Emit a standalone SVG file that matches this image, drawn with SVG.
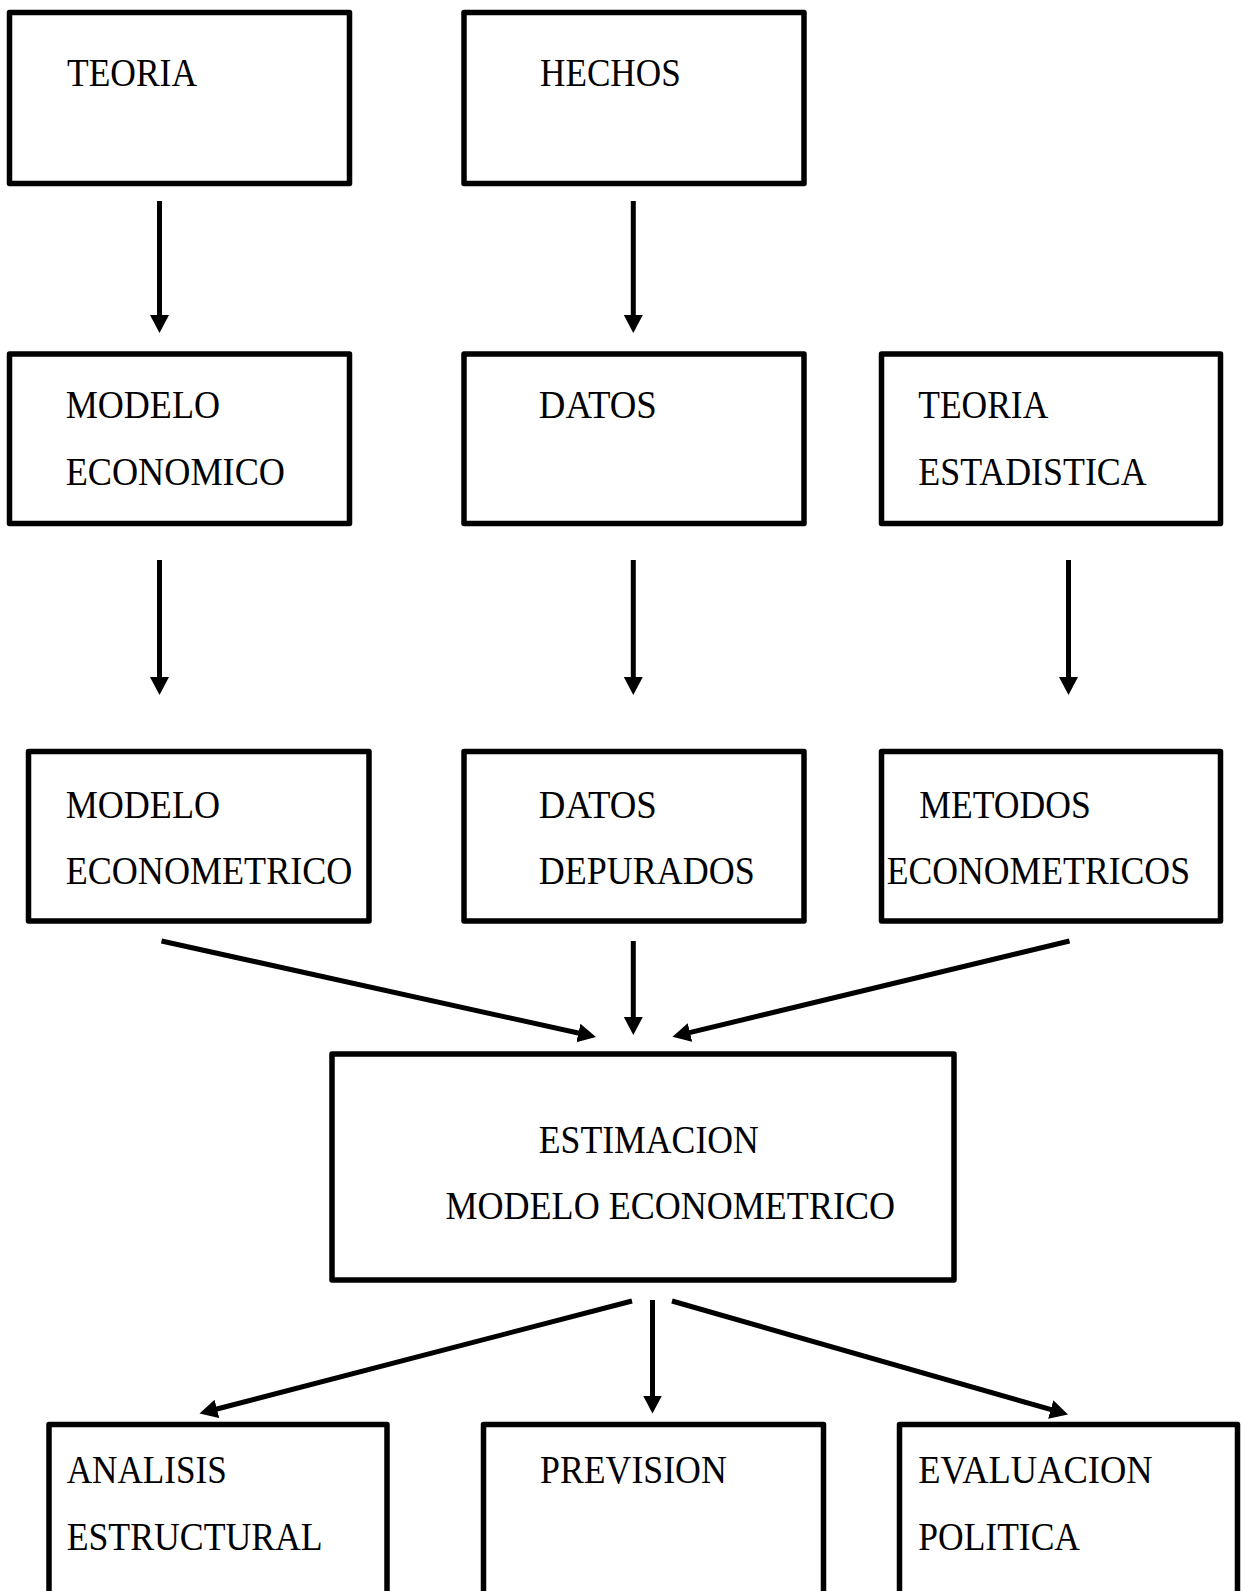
<svg xmlns="http://www.w3.org/2000/svg" width="1242" height="1591" viewBox="0 0 1242 1591">
<style>
.box{fill:#fff;stroke:#000;stroke-width:5.5;stroke-linejoin:round}
.t{font-family:"Liberation Serif","Times New Roman",serif;font-size:39px;fill:#000}
.c{stroke:#000;stroke-width:5;fill:none;marker-end:url(#ah)}
</style>
<defs>
<marker id="ah" markerUnits="userSpaceOnUse" markerWidth="20" markerHeight="20" refX="8" refY="10" orient="auto">
<path d="M0,0.5 L18,10 L0,19.5 z" fill="#000"/>
</marker>
</defs>
<rect width="1242" height="1591" fill="#fff"/>
<g id="n-teoria"><rect class="box" x="9.5" y="12.5" width="340" height="171"/>
<text class="t" x="67" y="86" textLength="130" lengthAdjust="spacingAndGlyphs">TEORIA</text></g>
<g id="n-hechos"><rect class="box" x="464" y="12.5" width="340" height="171"/>
<text class="t" x="540" y="86" textLength="140.7" lengthAdjust="spacingAndGlyphs">HECHOS</text></g>
<g id="n-modelo-economico"><rect class="box" x="9.5" y="354" width="340" height="169.5"/>
<text class="t" x="65.7" y="418.3" textLength="154.3" lengthAdjust="spacingAndGlyphs">MODELO</text>
<text class="t" x="65.7" y="485" textLength="219.3" lengthAdjust="spacingAndGlyphs">ECONOMICO</text></g>
<g id="n-datos"><rect class="box" x="464" y="354" width="340" height="169.5"/>
<text class="t" x="538.8" y="418.3" textLength="118" lengthAdjust="spacingAndGlyphs">DATOS</text></g>
<g id="n-teoria-estadistica"><rect class="box" x="881.5" y="354" width="339" height="169.5"/>
<text class="t" x="918.3" y="418.3" textLength="130" lengthAdjust="spacingAndGlyphs">TEORIA</text>
<text class="t" x="918.3" y="485" textLength="228.4" lengthAdjust="spacingAndGlyphs">ESTADISTICA</text></g>
<g id="n-modelo-econometrico"><rect class="box" x="28.5" y="751.5" width="340.5" height="169.5"/>
<text class="t" x="65.7" y="818.3" textLength="154.3" lengthAdjust="spacingAndGlyphs">MODELO</text>
<text class="t" x="65.7" y="884" textLength="286.7" lengthAdjust="spacingAndGlyphs">ECONOMETRICO</text></g>
<g id="n-datos-depurados"><rect class="box" x="464" y="751.5" width="340" height="169.5"/>
<text class="t" x="538.8" y="818.3" textLength="118" lengthAdjust="spacingAndGlyphs">DATOS</text>
<text class="t" x="538.8" y="884" textLength="216" lengthAdjust="spacingAndGlyphs">DEPURADOS</text></g>
<g id="n-metodos"><rect class="box" x="881.5" y="751.5" width="339" height="169.5"/>
<text class="t" x="919.3" y="818.3" textLength="171.4" lengthAdjust="spacingAndGlyphs">METODOS</text>
<text class="t" x="886.7" y="884" textLength="303.3" lengthAdjust="spacingAndGlyphs">ECONOMETRICOS</text></g>
<g id="n-estimacion"><rect class="box" x="332" y="1054" width="622" height="226"/>
<text class="t" x="538.8" y="1153" textLength="220" lengthAdjust="spacingAndGlyphs">ESTIMACION</text>
<text class="t" x="445.5" y="1218.6" textLength="449.5" lengthAdjust="spacingAndGlyphs">MODELO ECONOMETRICO</text></g>
<g id="n-analisis"><rect class="box" x="49" y="1424.5" width="338" height="200"/>
<text class="t" x="66.7" y="1483.3" textLength="160" lengthAdjust="spacingAndGlyphs">ANALISIS</text>
<text class="t" x="66.7" y="1550" textLength="256" lengthAdjust="spacingAndGlyphs">ESTRUCTURAL</text></g>
<g id="n-prevision"><rect class="box" x="483.5" y="1424.5" width="340" height="200"/>
<text class="t" x="540" y="1483.3" textLength="186.7" lengthAdjust="spacingAndGlyphs">PREVISION</text></g>
<g id="n-evaluacion"><rect class="box" x="899.5" y="1424.5" width="338" height="200"/>
<text class="t" x="918.3" y="1483.3" textLength="234.4" lengthAdjust="spacingAndGlyphs">EVALUACION</text>
<text class="t" x="918.3" y="1550" textLength="161.7" lengthAdjust="spacingAndGlyphs">POLITICA</text></g>
<g id="connectors">
<line class="c" x1="159.5" y1="201" x2="159.5" y2="323"/>
<line class="c" x1="633.3" y1="201" x2="633.3" y2="323"/>
<line class="c" x1="159.5" y1="560" x2="159.5" y2="685"/>
<line class="c" x1="633.3" y1="560" x2="633.3" y2="685"/>
<line class="c" x1="1068.5" y1="560" x2="1068.5" y2="685"/>
<line class="c" x1="161.5" y1="941" x2="586.2" y2="1034.8"/>
<line class="c" x1="633.3" y1="941" x2="633.3" y2="1025"/>
<line class="c" x1="1069.5" y1="941" x2="682.2" y2="1034.4"/>
<line class="c" x1="632" y1="1301" x2="209.2" y2="1411"/>
<line class="c" x1="652.5" y1="1300" x2="652.5" y2="1403.5"/>
<line class="c" x1="672" y1="1301" x2="1058.4" y2="1411.7"/>
</g>
</svg>
